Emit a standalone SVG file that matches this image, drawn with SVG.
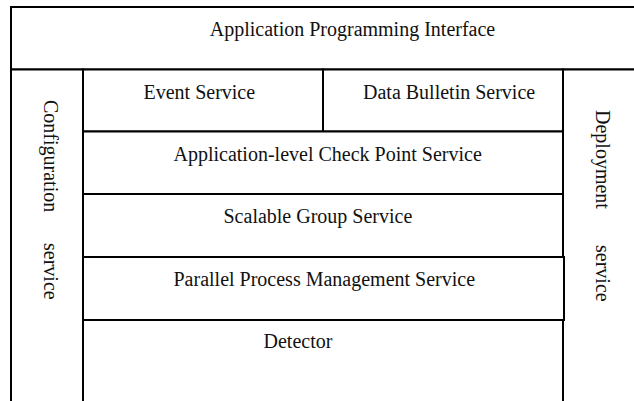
<svg xmlns="http://www.w3.org/2000/svg" width="634" height="401" viewBox="0 0 634 401">
<style>
.box{fill:#fff;stroke:#000;stroke-width:2}
.t{font-family:"Liberation Serif","Times New Roman",serif;font-size:20px;fill:#111}
</style>
<rect x="0" y="0" width="634" height="401" fill="#fff"/>
<g id="api"><rect class="box" x="11" y="7" width="640" height="62.5"/><text class="t" x="352.5" y="36" text-anchor="middle">Application Programming Interface</text></g>
<g id="config"><rect class="box" x="11" y="69.5" width="72" height="340"/><text class="t" transform="translate(44,100) rotate(90)"><tspan x="0" y="0">Configuration</tspan><tspan x="143" y="0">service</tspan></text></g>
<g id="deploy"><rect class="box" x="563" y="69.5" width="80" height="340"/><text class="t" transform="translate(596,110) rotate(90)"><tspan x="0" y="0">Deployment</tspan><tspan x="135" y="0">service</tspan></text></g>
<g id="event"><rect class="box" x="83" y="69.5" width="240" height="62"/><text class="t" x="143.5" y="98.5">Event Service</text></g>
<g id="bulletin"><rect class="box" x="323" y="69.5" width="240" height="62"/><text class="t" x="363" y="98.5">Data Bulletin Service</text></g>
<g id="checkpoint"><rect class="box" x="83" y="131.5" width="480" height="62.5"/><text class="t" x="173.5" y="160.7">Application-level Check Point Service</text></g>
<g id="scalable"><rect class="box" x="83" y="194" width="480" height="63"/><text class="t" x="223.5" y="222.7">Scalable Group Service</text></g>
<g id="parallel"><rect class="box" x="83" y="257" width="481" height="63"/><text class="t" x="173.5" y="286">Parallel Process Management Service</text></g>
<g id="detector"><rect class="box" x="83" y="320" width="480" height="90"/><text class="t" x="263.5" y="348.3">Detector</text></g>
<g id="connectors"></g>
</svg>
